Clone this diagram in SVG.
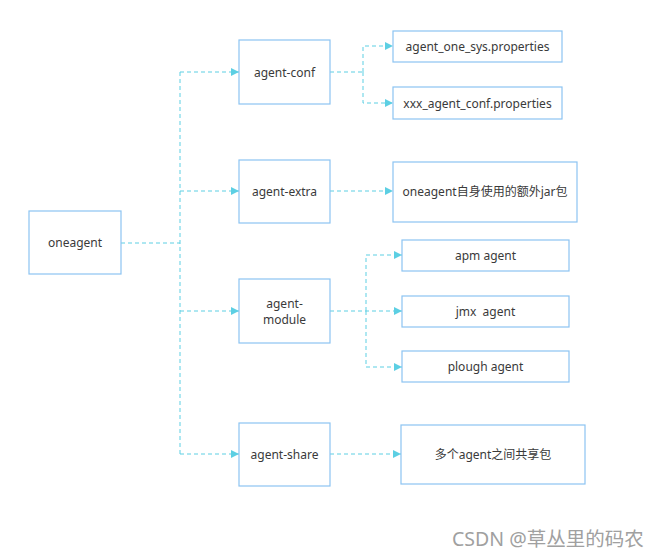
<svg xmlns="http://www.w3.org/2000/svg" width="659" height="557" viewBox="0 0 659 557">
  <style>
    .box { fill: #ffffff; stroke: #8cc4f2; stroke-width: 1.2; }
    .lbl { font-family: "Noto Sans", "Noto Sans CJK SC", sans-serif; font-size: 12px; fill: #3a3a3a; text-anchor: middle; dominant-baseline: central; }
    .link { fill: none; stroke: #5ccfe3; stroke-width: 1; stroke-dasharray: 4 3; }
    .wm { font-family: "Noto Sans", "Noto Sans CJK SC", sans-serif; font-size: 19.5px; fill: #a0a0a0; }
  </style>
  <defs>
    <marker id="arrow" viewBox="0 0 10 10" refX="10" refY="5" markerWidth="8" markerHeight="8" markerUnits="userSpaceOnUse" orient="auto">
      <path d="M0,0 L10,5 L0,10 Z" fill="#5ccfe3"/>
    </marker>
  </defs>
  <rect width="659" height="557" fill="#ffffff"/>

  <g id="connectors">
    <path class="link" d="M121,243 H180"/>
    <path class="link" d="M180,72 V454"/>
    <path class="link" marker-end="url(#arrow)" d="M180,72 H239"/>
    <path class="link" marker-end="url(#arrow)" d="M180,191 H239"/>
    <path class="link" marker-end="url(#arrow)" d="M180,311 H239"/>
    <path class="link" marker-end="url(#arrow)" d="M180,454 H239"/>
    <path class="link" d="M330,72 H363"/>
    <path class="link" marker-end="url(#arrow)" d="M363,72 V46 H393"/>
    <path class="link" marker-end="url(#arrow)" d="M363,72 V103 H393"/>
    <path class="link" marker-end="url(#arrow)" d="M330,191 H393"/>
    <path class="link" marker-end="url(#arrow)" d="M330,311 H402"/>
    <path class="link" marker-end="url(#arrow)" d="M366,311 V255 H402"/>
    <path class="link" marker-end="url(#arrow)" d="M366,311 V367 H402"/>
    <path class="link" marker-end="url(#arrow)" d="M330,454 H401"/>
  </g>

  <g id="oneagent">
    <rect class="box" x="29" y="211" width="92" height="63"/>
    <text class="lbl" x="75" y="242.5">oneagent</text>
  </g>
  <g id="agent-conf">
    <rect class="box" x="239" y="40" width="91" height="64"/>
    <text class="lbl" x="284.5" y="72">agent-conf</text>
  </g>
  <g id="agent-extra">
    <rect class="box" x="239" y="160" width="91" height="63"/>
    <text class="lbl" x="284.5" y="191">agent-extra</text>
  </g>
  <g id="agent-module">
    <rect class="box" x="239" y="279" width="91" height="64"/>
    <text class="lbl" x="284.5" y="303">agent-</text>
    <text class="lbl" x="284.5" y="319">module</text>
  </g>
  <g id="agent-share">
    <rect class="box" x="239" y="423" width="91" height="63"/>
    <text class="lbl" x="284.5" y="454">agent-share</text>
  </g>
  <g id="agent_one_sys">
    <rect class="box" x="393" y="31" width="169" height="31"/>
    <text class="lbl" x="477.5" y="46">agent_one_sys.properties</text>
  </g>
  <g id="xxx_agent_conf">
    <rect class="box" x="393" y="87" width="169" height="32"/>
    <text class="lbl" x="477.5" y="103">xxx_agent_conf.properties</text>
  </g>
  <g id="extra_jar">
    <rect class="box" x="393" y="162" width="184" height="60"/>
    <text class="lbl" x="485" y="191">oneagent自身使用的额外jar包</text>
  </g>
  <g id="apm_agent">
    <rect class="box" x="402" y="240" width="167" height="31"/>
    <text class="lbl" x="485.5" y="255">apm agent</text>
  </g>
  <g id="jmx_agent">
    <rect class="box" x="402" y="296" width="167" height="31"/>
    <text class="lbl" x="485.5" y="311" xml:space="preserve">jmx  agent</text>
  </g>
  <g id="plough_agent">
    <rect class="box" x="402" y="351" width="167" height="31"/>
    <text class="lbl" x="485.5" y="366.5">plough agent</text>
  </g>
  <g id="shared_pkg">
    <rect class="box" x="401" y="425" width="184" height="59"/>
    <text class="lbl" x="493" y="454">多个agent之间共享包</text>
  </g>

  <text class="wm" x="452" y="546">CSDN @草丛里的码农</text>
</svg>
